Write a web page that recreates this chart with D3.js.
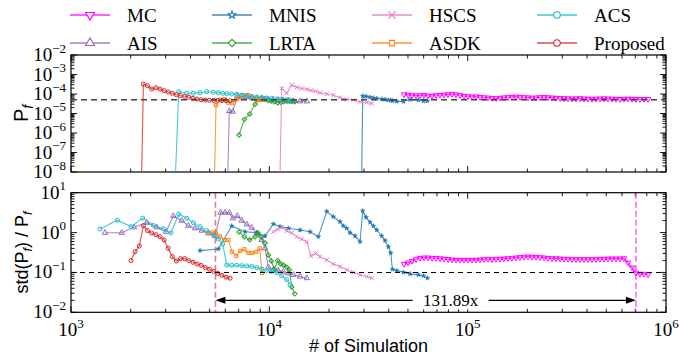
<!DOCTYPE html>
<html>
<head>
<meta charset="utf-8">
<script src="https://cdn.jsdelivr.net/npm/d3@7"></script>
<style>
  html, body { margin: 0; padding: 0; background: #fff; }
  text { font-family: "Liberation Serif", serif; }
  text.sans { font-family: "Liberation Sans", sans-serif; }
</style>
</head>
<body>
<svg id="chart" width="694" height="358"></svg>
<script>
// ---- data ----
const mcSims = [47790, 50060, 52440, 54930, 57540, 60280, 63140, 66140, 69280, 72570,
  76020, 79630, 83420, 87380, 91530, 95880, 100440, 105200, 110200, 115450,
  120930, 126680, 132700, 139000, 145600, 152520, 159770, 167360, 175310, 183640,
  192370, 201510, 211090, 221120, 231620, 242630, 254160, 266240, 278890, 292140,
  306020, 320570, 335800, 351760, 368470, 385980, 404320, 423530, 443660, 464740,
  486830, 509970, 534200, 559590, 586180, 614030, 643210, 673780, 705600, 739310,
  774460, 811250];
const mcPf = [9.5e-5, 9.0e-5, 8.6e-5, 8.3e-5, 8.5e-5, 8.8e-5, 8.2e-5, 7.9e-5, 8.6e-5, 8.9e-5,
  9.2e-5, 9.6e-5, 1.0e-4, 9.4e-5, 8.6e-5, 8.0e-5, 7.6e-5, 7.2e-5, 7.4e-5, 7.0e-5,
  6.7e-5, 6.5e-5, 6.2e-5, 6.0e-5, 6.3e-5, 6.6e-5, 6.8e-5, 7.1e-5, 7.3e-5, 7.0e-5,
  6.8e-5, 6.6e-5, 6.4e-5, 6.5e-5, 6.8e-5, 7.0e-5, 6.7e-5, 6.5e-5, 6.3e-5, 6.2e-5,
  6.0e-5, 5.9e-5, 5.8e-5, 5.9e-5, 6.0e-5, 5.8e-5, 5.7e-5, 5.6e-5, 5.7e-5, 5.8e-5,
  5.9e-5, 5.8e-5, 5.7e-5, 5.6e-5, 5.5e-5, 5.6e-5, 5.7e-5, 5.6e-5, 5.5e-5, 5.4e-5,
  5.5e-5, 5.5e-5];
const mcStd = [0.163, 0.176, 0.194, 0.214, 0.23, 0.235, 0.235, 0.23, 0.23, 0.225,
  0.218, 0.214, 0.21, 0.206, 0.206, 0.206, 0.206, 0.206, 0.206, 0.21,
  0.214, 0.218, 0.214, 0.218, 0.218, 0.222, 0.225, 0.23, 0.235, 0.24,
  0.245, 0.25, 0.245, 0.245, 0.24, 0.235, 0.23, 0.225, 0.225, 0.222,
  0.218, 0.218, 0.214, 0.214, 0.214, 0.214, 0.214, 0.214, 0.214, 0.218,
  0.218, 0.222, 0.222, 0.222, 0.222, 0.225, 0.176, 0.132, 0.099, 0.092,
  0.092, 0.089];

const aisSims = [1484, 1802, 2078, 2408, 2705, 3013, 3281, 3616, 3904, 4220, 4561, 4925,
  5324, 5686, 5978, 6284, 6540, 6897, 7258, 7691, 8151, 8641, 9156, 9513, 9885, 10475,
  11102, 11766, 12469, 13213, 14282, 15440];
const aisPf = [0, 0, 0, 0, 0, 0, 0, 0, 0, 0, 0, 0, 0, 0, 0,
  1.34e-5, 1.25e-5, 8.0e-5, 7.5e-5, 7.0e-5, 6.5e-5, 6.0e-5, 5.8e-5, 5.5e-5, 5.3e-5,
  5.1e-5, 5.0e-5, 4.8e-5, 4.6e-5, 4.4e-5, 4.2e-5, 4.2e-5];
const aisStd = [0.99, 0.99, 1.36, 1.77, 1.36, 1.05, 2.61, 1.99, 1.49, 1.28, 1.12, 0.96,
  0.82, 3.16, 3.16, 3.16, 2.28, 2.61, 1.99, 1.61, 1.33, 0.96, 0.65, 0.40, 0.135, 0.116,
  0.111, 0.105, 0.095, 0.087, 0.079, 0.072];

const mnisSims = [4472, 5532, 6463, 7543, 8641, 9513, 10475, 11324, 12469, 14282, 16045,
  17662, 19478, 21026, 22724, 23614, 24563, 25527, 27049, 28669, 29580, 30741, 32200,
  33461, 34806, 36880, 38327, 39822, 40950, 41723, 43910, 47395, 51237, 56418, 59795, 62640];
const mnisPf = [0, 0, 0, 0, 0, 0, 0, 0, 0, 0, 0, 0, 0, 0, 0, 0, 0, 0, 0, 0,
  7.9e-5, 7.5e-5, 6.8e-5, 6.2e-5, 5.9e-5, 5.5e-5, 5.2e-5, 4.9e-5, 4.8e-5, 4.5e-5,
  4.2e-5, 4.1e-5, 5.2e-5, 4.9e-5, 4.4e-5, 4.4e-5];
const mnisStd = [0.352, 0.388, 1.46, 1.05, 0.99, 0.82, 1.64, 1.41, 1.28, 1.16, 1.05, 0.79,
  3.4, 2.50, 1.87, 1.46, 1.28, 0.99, 0.82, 0.59, 3.5, 2.41, 1.81, 1.46, 1.16, 0.82,
  0.63, 0.44, 0.31, 0.120, 0.111, 0.101, 0.092, 0.087, 0.082, 0.072];

const lrtaSims = [7036, 7481, 7964, 8472, 8770, 9081, 9513, 9885, 10235, 10598, 11025,
  11416, 11766, 12238, 12615, 12973, 13432];
const lrtaPf = [7.9e-7, 5.0e-6, 9.4e-6, 3.0e-5, 5.0e-5, 5.5e-5, 5.3e-5, 4.6e-5, 4.4e-5,
  4.0e-5, 3.6e-5, 3.8e-5, 4.0e-5, 4.2e-5, 4.2e-5, 4.1e-5, 4.0e-5];
const lrtaStd = [1.03, 0.79, 0.66, 0.79, 0.98, 0.79, 0.55, 0.275, 0.194, 0.120, 0.200,
  0.163, 0.154, 0.135, 0.116, 0.043, 0.029];

const hscsSims = [10475, 11025, 11548, 12238, 12973, 13746, 14570, 15440, 16231, 17100,
  18019, 19478, 21026, 22724, 24563, 26520, 28669, 30994, 32843];
const hscsPf = [0, 0, 1.96e-4, 1.09e-4, 2.9e-4, 2.2e-4, 1.91e-4, 1.74e-4, 1.51e-4, 1.37e-4,
  1.17e-4, 1.0e-4, 8.6e-5, 6.6e-5, 5.3e-5, 4.9e-5, 4.0e-5, 3.7e-5, 3.3e-5];
const hscsStd = [1.05, 1.20, 1.38, 1.10, 0.98, 0.79, 0.68, 0.59, 0.26, 0.30, 0.249, 0.206,
  0.163, 0.140, 0.116, 0.100, 0.087, 0.079, 0.072];

const asdkSims = [4925, 5141, 5386, 5641, 5931, 6212, 6486, 6817, 7141, 7481, 7836, 8209,
  8600, 8946, 9189];
const asdkPf = [0, 0, 2.7e-5, 5.0e-5, 5.5e-5, 3.6e-5, 3.4e-5, 5.2e-5, 6.0e-5, 8.5e-5,
  8.8e-5, 5.8e-5, 5.0e-5, 5.0e-5, 4.9e-5];
const asdkStd = [0.98, 1.0, 0.98, 0.80, 0.65, 0.65, 0.33, 0.26, 0.35, 0.38, 0.31, 0.31,
  0.33, 0.40, 0.097];

const acsSims = [1400, 1712, 2007, 2299, 2600, 2921, 3193, 3493, 3833, 4138, 4472, 4834,
  5220, 5532, 5821, 6098, 6463, 6848, 7258, 7691, 8151, 8641, 9156, 9703, 10283, 10897,
  11548, 12238, 12718];
const acsPf = [0, 0, 0, 0, 0, 0, 0, 1.31e-4, 1.09e-4, 1.09e-4, 1.17e-4, 1.31e-4, 1.22e-4,
  1.17e-4, 1.09e-4, 1.04e-4, 1.0e-4, 9.7e-5, 8.9e-5, 7.9e-5, 7.4e-5, 7.0e-5, 6.6e-5,
  6.2e-5, 6.0e-5, 5.5e-5, 5.3e-5, 5.1e-5, 4.9e-5];
const acsStd = [1.23, 2.05, 1.41, 2.3, 1.52, 1.25, 0.98, 2.9, 2.28, 1.77, 1.41, 1.12, 0.87,
  0.69, 0.52, 0.154, 0.151, 0.151, 0.148, 0.145, 0.141, 0.132, 0.122, 0.113, 0.107,
  0.099, 0.082, 0.066, 0.049];

const propSims = [2007, 2104, 2210, 2318, 2431, 2550, 2678, 2810, 2946, 3090, 3243, 3400,
  3567, 3742, 3928, 4120, 4322, 4533, 4758, 4990, 5235, 5491, 5763, 6045, 6340];
const propPf = [0, 0, 0, 3.14e-4, 2.67e-4, 1.80e-4, 2.10e-4, 1.80e-4, 1.48e-4, 1.27e-4,
  1.09e-4, 9.2e-5, 8.2e-5, 7.6e-5, 6.8e-5, 6.0e-5, 5.5e-5, 5.1e-5, 4.9e-5, 4.8e-5,
  4.7e-5, 4.7e-5, 4.6e-5, 4.6e-5, 4.5e-5];
const propStd = [0.198, 0.332, 0.461, 1.49, 1.12, 0.977, 0.886, 0.789, 0.653, 0.405, 0.249,
  0.194, 0.222, 0.222, 0.198, 0.180, 0.163, 0.151, 0.132, 0.120, 0.107, 0.095, 0.085,
  0.076, 0.072];

const legendOrder = ["MC", "MNIS", "HSCS", "ACS", "AIS", "LRTA", "ASDK", "Proposed"];
const pfReference = 5e-5;
const stdTarget = 0.1;
const proposedHit = 5350;
const mcHit = 705600;
const speedupText = "131.89x";
const arrowLevel = 0.02;
const speedupTextAt = 82000;

// ---- layout ----
const PLOT_LEFT = 71;
const PLOT_RIGHT = 666;
const TOP_PANEL = { top: 55, bottom: 172 };
const BOTTOM_PANEL = { top: 192.7, bottom: 312.3 };

const series = [
  { name: "MC", color: "#ff00ff", marker: "triDown", sims: mcSims, pf: mcPf, std: mcStd },
  { name: "AIS", color: "#9467bd", marker: "triUp", sims: aisSims, pf: aisPf, std: aisStd },
  { name: "MNIS", color: "#1f77b4", marker: "star", sims: mnisSims, pf: mnisPf, std: mnisStd },
  { name: "LRTA", color: "#2ca02c", marker: "diamond", sims: lrtaSims, pf: lrtaPf, std: lrtaStd },
  { name: "HSCS", color: "#e377c2", marker: "x", sims: hscsSims, pf: hscsPf, std: hscsStd },
  { name: "ASDK", color: "#ff7f0e", marker: "square", sims: asdkSims, pf: asdkPf, std: asdkStd },
  { name: "ACS", color: "#17becf", marker: "circle", sims: acsSims, pf: acsPf, std: acsStd },
  { name: "Proposed", color: "#d62728", marker: "circle", sims: propSims, pf: propPf, std: propStd },
];

const x = d3.scaleLog().domain([1e3, 1e6]).range([PLOT_LEFT, PLOT_RIGHT]);
const yTop = d3.scaleLog().domain([1e-8, 1e-2]).range([TOP_PANEL.bottom, TOP_PANEL.top]);
const yBottom = d3.scaleLog().domain([1e-2, 1e1]).range([BOTTOM_PANEL.bottom, BOTTOM_PANEL.top]);

const svg = d3.select("#chart");

function markerShape(kind, size) {
  const gen = d3.symbol();
  if (kind === "triDown" || kind === "triUp") {
    return { d: gen.type(d3.symbolTriangle).size(size)(), rotate: kind === "triDown" ? 180 : 0 };
  }
  if (kind === "star") return { d: gen.type(d3.symbolStar).size(size * 0.5)(), rotate: 0 };
  if (kind === "diamond") return { d: gen.type(d3.symbolSquare).size(size * 0.8)(), rotate: 45 };
  if (kind === "square") return { d: gen.type(d3.symbolSquare).size(size * 0.8)(), rotate: 0 };
  if (kind === "x") return { d: gen.type(d3.symbolX || d3.symbolCross).size(size)(), rotate: 0 };
  return { d: gen.type(d3.symbolCircle).size(size)(), rotate: 0 };
}

function drawMarkers(group, points, s, size) {
  const shape = markerShape(s.marker, size);
  group.selectAll(null)
    .data(points)
    .join("path")
    .attr("d", shape.d)
    .attr("transform", (p) => `translate(${p.x},${p.y}) rotate(${shape.rotate})`)
    .attr("fill", s.marker === "star" ? s.color : "none")
    .attr("stroke", s.color)
    .attr("stroke-width", s.marker === "star" ? 0.6 : 1);
}

function expLabel(v) {
  const e = Math.round(Math.log10(v));
  return e < 0 ? "\u2212" + Math.abs(e) : String(e);
}

function minorTicks(lo, hi) {
  const out = [];
  for (let p = Math.round(Math.log10(lo)); p < Math.round(Math.log10(hi)); p += 1) {
    for (let m = 2; m <= 9; m += 1) out.push(m * Math.pow(10, p));
  }
  return out;
}

function powers(lo, hi) {
  return d3.range(Math.round(Math.log10(lo)), Math.round(Math.log10(hi)) + 1).map((p) => Math.pow(10, p));
}

function powerLabel(parent, px, py, anchor, v) {
  const t = parent.append("text")
    .attr("x", px).attr("y", py)
    .attr("text-anchor", anchor)
    .attr("font-size", 19);
  t.append("tspan").text("10");
  t.append("tspan").attr("dy", -8.5).attr("font-size", 13).text(expLabel(v));
}

function drawPanel(panel, yScale, id, showXLabels) {
  const g = svg.append("g");
  svg.append("clipPath").attr("id", id)
    .append("rect")
    .attr("x", PLOT_LEFT).attr("y", panel.top)
    .attr("width", PLOT_RIGHT - PLOT_LEFT).attr("height", panel.bottom - panel.top);

  const ticks = g.append("g").attr("stroke", "#000").attr("stroke-width", 0.9);
  const xMaj = powers(1e3, 1e6);
  const xMin = minorTicks(1e3, 1e6);
  const [yLo, yHi] = yScale.domain();
  const yMaj = powers(yLo, yHi);
  const yMin = minorTicks(yLo, yHi);

  const xt = [...xMaj.map((v) => [v, 6]), ...xMin.map((v) => [v, 3.5])];
  xt.forEach(([v, len]) => {
    ticks.append("line").attr("x1", x(v)).attr("x2", x(v)).attr("y1", panel.bottom).attr("y2", panel.bottom - len);
    ticks.append("line").attr("x1", x(v)).attr("x2", x(v)).attr("y1", panel.top).attr("y2", panel.top + len);
  });
  const yt = [...yMaj.map((v) => [v, 6]), ...yMin.map((v) => [v, 3.5])];
  yt.forEach(([v, len]) => {
    ticks.append("line").attr("y1", yScale(v)).attr("y2", yScale(v)).attr("x1", PLOT_LEFT).attr("x2", PLOT_LEFT + len);
    ticks.append("line").attr("y1", yScale(v)).attr("y2", yScale(v)).attr("x1", PLOT_RIGHT).attr("x2", PLOT_RIGHT - len);
  });

  g.append("rect")
    .attr("x", PLOT_LEFT).attr("y", panel.top)
    .attr("width", PLOT_RIGHT - PLOT_LEFT).attr("height", panel.bottom - panel.top)
    .attr("fill", "none").attr("stroke", "#000").attr("stroke-width", 1.2);

  yMaj.forEach((v) => powerLabel(g, PLOT_LEFT - 5, yScale(v) + 6, "end", v));
  if (showXLabels) {
    xMaj.forEach((v) => powerLabel(g, x(v), panel.bottom + 24, "middle", v));
  }
}

drawPanel(TOP_PANEL, yTop, "clip-top", false);
drawPanel(BOTTOM_PANEL, yBottom, "clip-bottom", true);

const topLayer = svg.append("g").attr("clip-path", "url(#clip-top)");
const bottomLayer = svg.append("g").attr("clip-path", "url(#clip-bottom)");

// bottom-panel vertical markers of where 0.1 is reached
bottomLayer.append("line")
  .attr("x1", x(proposedHit)).attr("x2", x(proposedHit))
  .attr("y1", BOTTOM_PANEL.top).attr("y2", BOTTOM_PANEL.bottom)
  .attr("stroke", "#d62728").attr("stroke-opacity", 0.6)
  .attr("stroke-width", 1.6).attr("stroke-dasharray", "6,3");
bottomLayer.append("line")
  .attr("x1", x(mcHit)).attr("x2", x(mcHit))
  .attr("y1", BOTTOM_PANEL.top).attr("y2", BOTTOM_PANEL.bottom)
  .attr("stroke", "#ff00ff").attr("stroke-opacity", 0.6)
  .attr("stroke-width", 1.6).attr("stroke-dasharray", "6,3");

const lineGen = d3.line().x((p) => p.x).y((p) => p.y);

series.forEach((s) => {
  // zero estimates are clipped to a tiny value, like a log axis does
  const topPts = s.sims.map((v, i) => ({ x: x(v), y: yTop(s.pf[i] > 0 ? s.pf[i] : 1e-14), ok: s.pf[i] > 0 }));
  topLayer.append("path").attr("d", lineGen(topPts))
    .attr("fill", "none").attr("stroke", s.color).attr("stroke-width", 1.1).attr("stroke-opacity", 0.8);
  drawMarkers(topLayer.append("g"), topPts.filter((p) => p.ok), s, 13);

  const botPts = s.sims.map((v, i) => ({ x: x(v), y: yBottom(s.std[i]) }));
  bottomLayer.append("path").attr("d", lineGen(botPts))
    .attr("fill", "none").attr("stroke", s.color).attr("stroke-width", 1.1).attr("stroke-opacity", 0.8);
  drawMarkers(bottomLayer.append("g"), botPts, s, 13);
});

topLayer.append("line")
  .attr("x1", PLOT_LEFT).attr("x2", PLOT_RIGHT)
  .attr("y1", yTop(pfReference)).attr("y2", yTop(pfReference))
  .attr("stroke", "#444").attr("stroke-width", 1.5).attr("stroke-dasharray", "6,4");
bottomLayer.append("line")
  .attr("x1", PLOT_LEFT).attr("x2", PLOT_RIGHT)
  .attr("y1", yBottom(stdTarget)).attr("y2", yBottom(stdTarget))
  .attr("stroke", "#000").attr("stroke-width", 1.1).attr("stroke-dasharray", "5,4");

// speed-up arrow
const ay = yBottom(arrowLevel);
const ax1 = x(proposedHit);
const ax2 = x(mcHit);
const head = 10;
svg.append("line")
  .attr("x1", ax1 + head).attr("x2", ax2 - head).attr("y1", ay).attr("y2", ay)
  .attr("stroke", "#000").attr("stroke-width", 1.3);
svg.append("path")
  .attr("d", `M${ax1},${ay}L${ax1 + head},${ay - 3.5}L${ax1 + head},${ay + 3.5}Z`)
  .attr("fill", "#000");
svg.append("path")
  .attr("d", `M${ax2},${ay}L${ax2 - head},${ay - 3.5}L${ax2 - head},${ay + 3.5}Z`)
  .attr("fill", "#000");
const tx = x(speedupTextAt);
svg.append("rect")
  .attr("x", tx - 38).attr("y", ay - 9).attr("width", 76).attr("height", 18)
  .attr("fill", "#fff");
svg.append("text")
  .attr("x", tx).attr("y", ay + 6)
  .attr("text-anchor", "middle")
  .attr("font-size", 17)
  .text(speedupText);

// axis titles
const pfTitle = svg.append("text")
  .attr("class", "sans")
  .attr("transform", `translate(28,${(TOP_PANEL.top + TOP_PANEL.bottom) / 2}) rotate(-90)`)
  .attr("text-anchor", "middle")
  .attr("font-size", 20);
pfTitle.append("tspan").text("P");
pfTitle.append("tspan").attr("dy", 5).attr("font-size", 14).attr("font-style", "italic").text("f");

const stdTitle = svg.append("text")
  .attr("class", "sans")
  .attr("transform", `translate(28,${(BOTTOM_PANEL.top + BOTTOM_PANEL.bottom) / 2}) rotate(-90)`)
  .attr("text-anchor", "middle")
  .attr("font-size", 18);
stdTitle.append("tspan").text("std(P");
stdTitle.append("tspan").attr("dy", 4).attr("font-size", 12.5).attr("font-style", "italic").text("f");
stdTitle.append("tspan").attr("dy", -4).text(") / P");
stdTitle.append("tspan").attr("dy", 4).attr("font-size", 12.5).attr("font-style", "italic").text("f");

svg.append("text")
  .attr("class", "sans")
  .attr("x", (PLOT_LEFT + PLOT_RIGHT) / 2).attr("y", 352)
  .attr("text-anchor", "middle")
  .attr("font-size", 18)
  .text("# of Simulation");

// legend
const byName = new Map(series.map((s) => [s.name, s]));
const legendCols = [70, 212, 372, 537];
const legendRows = [15, 43];
legendOrder.forEach((name, i) => {
  const s = byName.get(name);
  const lx = legendCols[i % 4];
  const ly = legendRows[Math.floor(i / 4)];
  const g = svg.append("g");
  g.append("line").attr("x1", lx).attr("x2", lx + 40).attr("y1", ly).attr("y2", ly)
    .attr("stroke", s.color).attr("stroke-width", 1.3).attr("stroke-opacity", 0.85);
  const shape = markerShape(s.marker, 34);
  g.append("path").attr("d", shape.d)
    .attr("transform", `translate(${lx + 20},${ly}) rotate(${shape.rotate})`)
    .attr("fill", "#fff").attr("stroke", s.color).attr("stroke-width", 1.1);
  g.append("text")
    .attr("x", lx + 57).attr("y", ly + 6.5)
    .attr("font-size", 19)
    .text(s.name);
});
</script>
</body>
</html>
